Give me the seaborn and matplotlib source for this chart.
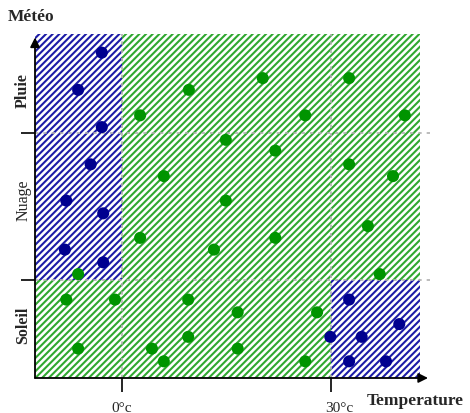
import numpy as np
import pandas as pd
import matplotlib
matplotlib.use('Agg')
import matplotlib.pyplot as plt
from matplotlib.patches import Rectangle
import seaborn as sns

# points (temperature in °c, meteo on a 0..3.5 scale)
# meteo bands: Soleil 0-1, Nuage 1-2.5, Pluie 2.5-3.5
blue_temp = [-2.9, -6.3, -2.9, -4.5, -8.0, -2.7, -8.2, -2.7,
             32.6, 29.9, 34.4, 39.8, 32.6, 37.9]
blue_meteo = [3.32, 2.94, 2.56, 2.18, 1.81, 1.68, 1.31, 1.18,
              0.80, 0.42, 0.42, 0.55, 0.17, 0.17]

green_temp = [2.6, 9.6, 20.2, 32.6, 26.3, 40.6, 14.9, 22.0, 32.6, 6.0,
              38.9, 14.9, 2.6, 13.2, 22.0, 35.3, 37.0, -6.3,
              -8.0, -1.0, 9.5, 16.6, 28.0, 9.5, -6.3, 4.3, 6.0, 16.6, 26.3]
green_meteo = [2.68, 2.94, 3.06, 3.06, 2.68, 2.68, 2.43, 2.32, 2.18, 2.06,
               2.06, 1.81, 1.43, 1.31, 1.43, 1.55, 1.06, 1.06,
               0.80, 0.80, 0.80, 0.67, 0.67, 0.42, 0.30, 0.30, 0.17, 0.30, 0.17]

temp_ticks = [0, 30]
temp_labels = ['0°c', '30°c']
meteo_bounds = [1, 2.5]
meteo_names = ['Soleil', 'Nuage', 'Pluie']
meteo_centers = [0.55, 1.82, 2.94]

df = pd.DataFrame({
    'temp': blue_temp + green_temp,
    'meteo': blue_meteo + green_meteo,
    'classe': ['bleu'] * len(blue_temp) + ['vert'] * len(green_temp),
})

sns.set_style('white')
plt.rcParams['font.family'] = ['Liberation Serif', 'DejaVu Serif']
plt.rcParams['hatch.linewidth'] = 1.5

BLUE_H = '#1c1ca6'
GREEN_H = '#30a830'
BLUE_P = '#00008f'
GREEN_P = '#009400'

x0, x1, xh = -12.49, 44.21, 42.78
y0, y1 = 0, 3.51

fig = plt.figure(figsize=(4.7, 4.14), dpi=100)
ax = fig.add_axes([35 / 470, 35 / 414, 395 / 470, 344 / 414])
ax.set_xlim(x0, x1)
ax.set_ylim(y0, y1)

# hatched zones
zones = [
    (x0, 1, 0 - x0, y1 - 1, BLUE_H),
    (0, 1, xh, y1 - 1, GREEN_H),
    (x0, 0, 30 - x0, 1, GREEN_H),
    (30, 0, xh - 30, 1, BLUE_H),
]
for zx, zy, zw, zh, c in zones:
    ax.add_patch(Rectangle((zx, zy), zw, zh, facecolor='white', edgecolor=c,
                           hatch='/////', linewidth=0, zorder=1))

# dotted grey limits
for t in temp_ticks:
    ax.plot([t, t], [y0, y1], color='#b0b0b0', ls=(0, (2, 3)), lw=1.2, zorder=2)
for b in meteo_bounds:
    ax.plot([x0, 44.4], [b, b], color='#b0b0b0', ls=(0, (2, 3)), lw=1.2,
            zorder=2, clip_on=False)

sns.scatterplot(data=df, x='temp', y='meteo', hue='classe',
                palette={'bleu': BLUE_P, 'vert': GREEN_P}, s=75,
                linewidth=0, legend=False, ax=ax, zorder=3)

for s in ax.spines.values():
    s.set_visible(False)
ax.set_xlabel('')
ax.set_ylabel('')

ax.set_xticks(temp_ticks)
ax.set_xticklabels([])
ax.set_yticks(meteo_bounds)
ax.set_yticklabels([])
ax.tick_params(axis='both', direction='out', length=10, width=1.2,
               color='black', bottom=True, left=True)

# axes arrows
ax.annotate('', xy=(0, 0.99), xytext=(0, 0), xycoords='axes fraction',
            arrowprops=dict(arrowstyle='-|>', color='black', lw=1.3,
                            mutation_scale=14, shrinkA=0, shrinkB=0))
ax.annotate('', xy=(0.995, 0), xytext=(0, 0), xycoords='axes fraction',
            arrowprops=dict(arrowstyle='-|>', color='black', lw=1.3,
                            mutation_scale=14, shrinkA=0, shrinkB=0))

# labels
trans_y = ax.get_yaxis_transform()
for name, c in zip(meteo_names, meteo_centers):
    ax.text(-0.03, c, name, transform=trans_y, rotation=90, ha='center',
            va='center', fontsize=11.5,
            fontweight='normal' if name == 'Nuage' else 'bold')

trans_x = ax.get_xaxis_transform()
for t, lab, dx in zip(temp_ticks, temp_labels, [0, 1.2]):
    ax.text(t + dx, -0.087, lab, transform=trans_x, ha='center', va='center',
            fontsize=11)

fig.text(8 / 470, 1 - 17 / 414, 'Météo', ha='left', va='center',
         fontsize=12.5, fontweight='bold')
fig.text(367 / 470, 1 - 401 / 414, 'Temperature', ha='left', va='center',
         fontsize=12.5, fontweight='bold')

fig.savefig('out.png', dpi=100)
